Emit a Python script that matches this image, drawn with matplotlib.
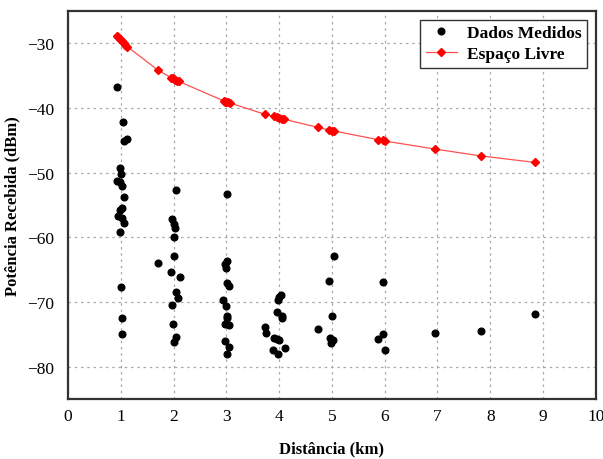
"""Potência recebida vs distância: medidas e espaço livre."""
import matplotlib
matplotlib.use("Agg")
import matplotlib.pyplot as plt

# medidas (km, dBm)
dist_medida = [
    0.93, 1.04, 1.05, 1.11, 0.99, 1.00, 0.93, 0.98, 1.02, 1.05, 1.03, 0.98, 0.95, 1.03, 1.05, 0.99, 1.00, 1.02, 1.03,
    2.05, 1.96, 2.00, 2.02, 2.01, 2.01, 1.71, 1.95, 2.12, 2.05, 2.08, 1.96, 1.98, 2.05, 2.01,
    3.02, 3.02, 2.98, 3.00, 3.02, 3.05, 2.94, 2.99, 3.01, 3.02, 2.98, 3.04, 2.98, 3.04, 3.01,
    4.03, 4.00, 3.97, 3.95, 4.06, 4.05, 3.74, 3.75, 3.90, 3.95, 4.00, 3.89, 3.98, 4.11,
    5.04, 4.95, 5.00, 4.74, 4.96, 5.02, 4.99,
    5.97, 5.88, 5.97, 6.00,
    6.96, 7.82, 8.84,
]
pot_medida = [
    -36.8, -42.1, -45.1, -44.8, -49.2, -50.2, -51.3, -51.5, -52.0, -53.8, -55.4, -55.8, -56.7, -57.0, -57.8, -59.1, -67.6, -72.4, -75.0,
    -52.7, -57.2, -57.9, -58.6, -60.0, -62.9, -63.9, -65.4, -66.1, -68.4, -69.4, -70.4, -73.4, -75.4, -76.2,
    -53.3, -63.6, -64.1, -64.8, -67.1, -67.5, -69.6, -70.6, -72.1, -72.5, -73.4, -73.5, -76.0, -77.0, -78.0,
    -68.9, -69.2, -69.7, -71.6, -72.1, -72.5, -73.9, -74.8, -75.5, -75.7, -75.8, -77.4, -78.0, -77.1,
    -62.9, -66.8, -72.1, -74.2, -75.5, -75.9, -76.3,
    -66.9, -75.7, -74.9, -77.4,
    -74.7, -74.4, -71.8,
]

# espaço livre (km, dBm)
dist_livre = [
    0.92, 0.95, 0.98, 1.00, 1.02, 1.05, 1.08, 1.12, 1.71, 1.95, 1.98, 2.00, 2.03, 2.06, 2.10,
    2.95, 2.98, 3.00, 3.03, 3.06, 3.74, 3.90, 3.95, 4.00, 4.05, 4.10, 4.74, 4.95, 5.00, 5.04,
    5.88, 5.97, 6.00, 6.96, 7.82, 8.84,
]
pot_livre = [
    -28.8, -29.05, -29.3, -29.5, -29.7, -29.9, -30.2, -30.5, -34.2, -35.3, -35.4, -35.5, -35.65, -35.8, -35.9,
    -38.9, -39.0, -39.0, -39.1, -39.2, -41.0, -41.3, -41.4, -41.5, -41.65, -41.75, -43.0, -43.4, -43.5, -43.55,
    -44.9, -45.0, -45.1, -46.35, -47.4, -48.4,
]

x_ticks = list(range(0, 11))
y_ticks = [-80, -70, -60, -50, -40, -30]

plt.rcParams["font.family"] = ["Liberation Serif", "DejaVu Serif"]

fig = plt.figure(figsize=(6.03, 4.6), dpi=100)
ax = fig.add_axes([0.113, 0.130, 0.875, 0.844])

ax.plot(dist_medida, pot_medida, linestyle="None", marker="o", markersize=4.8,
        color="black", label="Dados Medidos", zorder=3)
ax.plot(dist_livre, pot_livre, color="#ff5050", linewidth=0.9, marker="D",
        markersize=4, markerfacecolor="red", markeredgecolor="red",
        label="Espaço Livre", zorder=4)

ax.set_xlim(0, 10)
ax.set_ylim(-85, -25)
ax.set_xticks(x_ticks)
ax.set_yticks(y_ticks)
ax.tick_params(axis="x", length=0, labelsize=12.5, pad=6)
ax.tick_params(axis="y", length=0, labelsize=12.5, pad=10)
ax.grid(True, linestyle=(0, (2, 3)), color="#aaaaaa", linewidth=0.9)
ax.set_axisbelow(True)
for sp in ax.spines.values():
    sp.set_linewidth(1.6)
    sp.set_color("#333333")

ax.set_xlabel("Distância (km)", fontsize=12, fontweight="bold", labelpad=12)
ax.set_ylabel("Potência Recebida (dBm)", fontsize=12, fontweight="bold", labelpad=5)

leg = ax.legend(loc="upper right", prop={"weight": "bold", "size": 12.5},
                fancybox=False, framealpha=1, edgecolor="#333333",
                borderaxespad=0.5, handlelength=1.8, handletextpad=0.6,
                borderpad=0.3, labelspacing=0.3)
leg.get_frame().set_linewidth(1.0)

fig.savefig("out.png", dpi=100)
